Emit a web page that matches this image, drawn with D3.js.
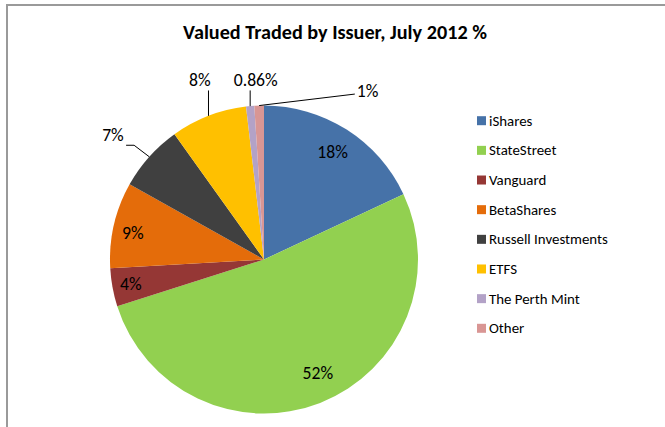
<!DOCTYPE html>
<html>
<head>
<meta charset="utf-8">
<script src="https://cdn.jsdelivr.net/npm/d3@7"></script>
<style>
  html, body { margin: 0; padding: 0; background: #fff; }
  svg { display: block; }
</style>
</head>
<body>
<script>
// ---- data ----
const title = "Valued Traded by Issuer, July 2012 %";
const issuers = ["iShares", "StateStreet", "Vanguard", "BetaShares", "Russell Investments", "ETFS", "The Perth Mint", "Other"];
const shares = [18, 52, 4, 9, 7, 8, 0.86, 1];
const colors = ["#4672A8", "#92D050", "#953735", "#E46C0A", "#404040", "#FFC000", "#B3A2C7", "#D99694"];

// ---- layout (label placement, not data) ----
const labelRadius = [0.83, 0.816, 0.88, 0.87, 1.27, 1.235, 1.164, 1.284];
const labelAngleShift = [0, -4, 0, -1.5, -2.4, 1.4, 2.5, 33.4]; // degrees
const outside = [false, false, false, false, true, true, true, true];

const W = 665, H = 427;
const cx = 264, cy = 259.5, R = 154;
const FONT = "Carlito, Calibri, Lato, sans-serif";

const svg = d3.select("body").append("svg").attr("width", W).attr("height", H);

// chart border (top and left visible)
svg.append("rect").attr("x", 7).attr("y", 5).attr("width", W + 10).attr("height", H + 10)
  .attr("fill", "none").attr("stroke", "#9a9a9a").attr("stroke-width", 2);

// font fitting helper
function fitSize(sample, target, weight) {
  const t = svg.append("text").attr("font-family", FONT).attr("font-size", 100)
    .attr("font-weight", weight || "normal").text(sample);
  const w = t.node().getComputedTextLength();
  t.remove();
  return 100 * target / w;
}
const titleSize = fitSize(title, 304, "bold");
const legendSize = fitSize("Russell Investments", 119);
const labelSize = fitSize("0.86%", 44);

// title
svg.append("text").attr("x", 335).attr("y", 32)
  .attr("text-anchor", "middle").attr("dominant-baseline", "central")
  .attr("font-family", FONT).attr("font-weight", "bold").attr("font-size", titleSize)
  .attr("fill", "#000").text(title);

// pie
const pie = d3.pie().sort(null).value(d => d.v);
const data = issuers.map((n, i) => ({ name: n, v: shares[i], color: colors[i], i }));
const arcs = pie(data);
const arc = d3.arc().innerRadius(0).outerRadius(R);

const g = svg.append("g").attr("transform", `translate(${cx},${cy})`);
g.selectAll("path.slice").data(arcs).enter().append("path")
  .attr("class", "slice").attr("d", arc)
  .attr("fill", d => d.data.color);

const fmt = v => v < 1 ? v.toFixed(2) + "%" : Math.round(v) + "%";

function polar(angle, r) { return [r * Math.sin(angle), -r * Math.cos(angle)]; }

arcs.forEach(d => {
  const i = d.data.i;
  const mid = (d.startAngle + d.endAngle) / 2;
  const la = mid + labelAngleShift[i] * Math.PI / 180;
  const [lx, ly] = polar(la, R * labelRadius[i]);
  const t = g.append("text").attr("x", lx).attr("y", ly)
    .attr("text-anchor", "middle").attr("dominant-baseline", "central")
    .attr("font-family", FONT).attr("font-size", labelSize).attr("fill", "#000")
    .text(fmt(d.data.v));
  if (outside[i]) {
    const bb = t.node().getBBox();
    const pad = 2;
    const box = { l: bb.x - pad, r: bb.x + bb.width + pad, t: bb.y + 3, b: bb.y + bb.height - 1 };
    const [px, py] = polar(mid, R);
    let pts;
    if (px > box.r) {
      // label to the left of its slice: short horizontal tick then to the arc
      const sy = Math.max(box.t, Math.min(box.b, py));
      pts = [[box.r, sy], [box.r + 8, sy], [px, py]];
    } else if (px < box.l) {
      // label to the right: straight line from its left edge
      pts = [[box.l, ly + 3], [px, py]];
    } else {
      const sy = py > box.b ? box.b : box.t;
      pts = [[px, sy], [px, py]];
    }
    g.append("path").attr("d", d3.line()(pts))
      .attr("fill", "none").attr("stroke", "#000").attr("stroke-width", 1);
  }
});

// legend
const ly = d3.scalePoint().domain(issuers).range([120.7, 328.3]);
const leg = svg.append("g");
issuers.forEach((n, i) => {
  leg.append("rect").attr("x", 477).attr("y", ly(n) - 4.5).attr("width", 9).attr("height", 9)
    .attr("fill", colors[i]);
  leg.append("text").attr("x", 489).attr("y", ly(n))
    .attr("dominant-baseline", "central")
    .attr("font-family", FONT).attr("font-size", legendSize).attr("fill", "#000")
    .text(n);
});
</script>
</body>
</html>
